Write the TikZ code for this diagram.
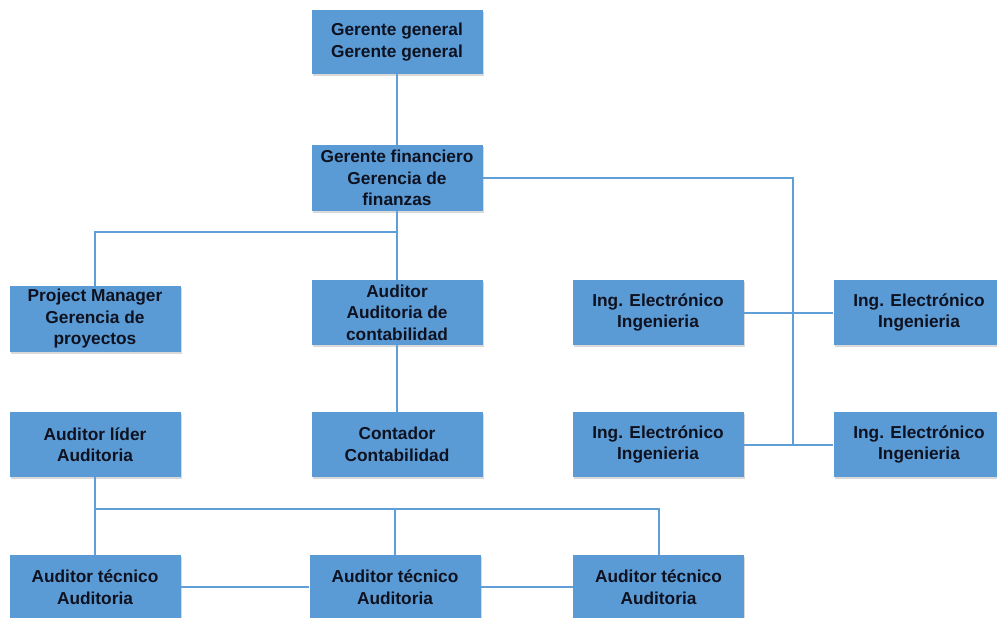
\documentclass[tikz,border=0pt]{standalone}
\usepackage{fontspec}
\setmainfont{Liberation Sans}
\usetikzlibrary{shadows}
\definecolor{boxblue}{RGB}{91,155,213}
\definecolor{linkblue}{RGB}{95,158,214}
\definecolor{ink}{RGB}{14,18,32}
\tikzset{
  unit/.style={rectangle, fill=boxblue, draw=none, minimum width=171pt, minimum height=65pt,
    align=center, text=ink, inner sep=0pt,
    font=\fontsize{17.3}{21.5}\selectfont\bfseries,
    drop shadow={shadow xshift=1.2pt, shadow yshift=-2pt, opacity=0.3, fill=gray}},
  link/.style={draw=linkblue, line width=2pt}
}
\begin{document}
\begin{tikzpicture}[x=1pt, y=-1pt]
\useasboundingbox (0,0) rectangle (997,618);

% top management
\node[unit, minimum height=64pt] (gg) at (397,42) {Gerente general\\Gerente general};
\node[unit, minimum height=66pt] (gf) at (397,178) {Gerente financiero\\Gerencia de\\finanzas};

% second level
\node[unit, minimum height=66pt] (pm) at (95,319) {Project Manager\\Gerencia de\\proyectos};
\node[unit] (aud) at (397,312.5) {Auditor\\Auditoria de\\contabilidad};
\node[unit] (ing1) at (658,312.5) {Ing. Electrónico\\Ingenieria};
\node[unit] (ing2) at (919,312.5) {Ing. Electrónico\\Ingenieria};

% third level
\node[unit] (al) at (95,444.5) {Auditor líder\\Auditoria};
\node[unit] (cont) at (397,444.5) {Contador\\Contabilidad};
\node[unit] (ing3) at (658,444.5) {Ing. Electrónico\\Ingenieria};
\node[unit] (ing4) at (919,444.5) {Ing. Electrónico\\Ingenieria};

% technical auditors
\node[unit, minimum height=64pt] (at1) at (95,587) {Auditor técnico\\Auditoria};
\node[unit, minimum height=64pt] (at2) at (395,587) {Auditor técnico\\Auditoria};
\node[unit, minimum height=64pt] (at3) at (658.5,587) {Auditor técnico\\Auditoria};

% junction points
\coordinate (fin) at (397,232);
\coordinate (ingtop) at (793,178);
\coordinate (ingbot) at (793,444.5);
\coordinate (tecbar) at (95,509);

% connectors
\draw[link] (gg.south) -- (gf.north);
\draw[link] (gf.south) -- (aud.north);
\draw[link] (fin) -| (pm.north);
\draw[link] (aud.south) -- (cont.north);
\draw[link] (gf.east) -- (ingtop) -- (ingbot);
\draw[link] (ing1.east) -- (ing2.west);
\draw[link] (ing3.east) -- (ing4.west);
\draw[link] (al.south) -- (at1.north);
\draw[link] (tecbar) -| (at3.north);
\draw[link] (at2.north |- tecbar) -- (at2.north);
\draw[link] (at1.east) -- (at2.west);
\draw[link] (at2.east) -- (at3.west);
\end{tikzpicture}
\end{document}
